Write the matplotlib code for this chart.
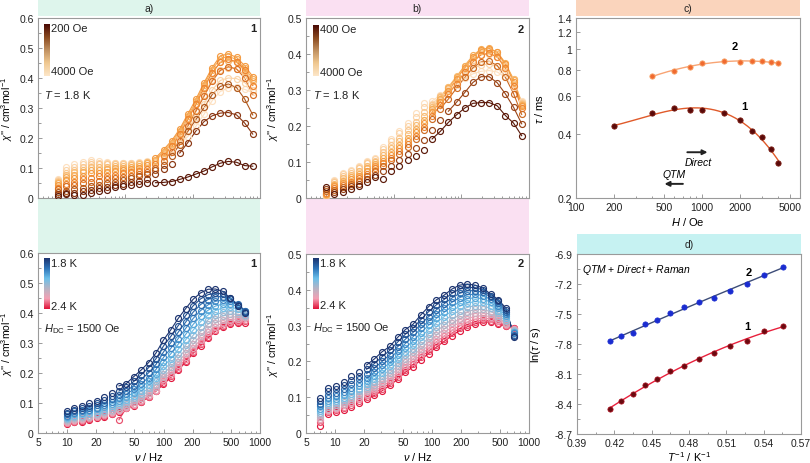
import numpy as np
import matplotlib
matplotlib.use('Agg')
import matplotlib.pyplot as plt
from matplotlib.colors import LinearSegmentedColormap
from matplotlib.ticker import FixedLocator, NullFormatter, NullLocator, FuncFormatter, MultipleLocator
from matplotlib.patches import Rectangle

plt.rcParams['font.family'] = ['Liberation Sans', 'DejaVu Sans']
plt.rcParams['mathtext.fontset'] = 'custom'
plt.rcParams['mathtext.rm'] = 'Liberation Sans'
plt.rcParams['mathtext.it'] = 'Liberation Sans:italic'
plt.rcParams['mathtext.bf'] = 'Liberation Sans:bold'

# ---------------- data ----------------
# panel a / b: chi'' vs frequency at 1.8 K for several fields
freq_top = [1.0, 1.32, 1.74, 2.3, 3.03, 4.0, 5.3, 7.0, 9.2, 12.1, 16.0, 21.1, 27.9,
            36.8, 48.6, 64.1, 84.6, 112, 148, 195, 257, 339, 448, 591, 780]
fields_a = [200, 400, 600, 800, 1000, 1500, 2000, 2500, 3000, 3500, 4000]
a200 = [0.008, 0.012, 0.010, 0.011, 0.017, 0.022, 0.028, 0.038, 0.041, 0.043, 0.048, 0.050, 0.051, 0.052, 0.055, 0.062, 0.070, 0.080, 0.090, 0.104, 0.116, 0.122, 0.119, 0.108, 0.106]
a400 = [0.015, 0.016, 0.018, 0.022, 0.027, 0.032, 0.037, 0.042, 0.047, 0.052, 0.057, 0.065, 0.080, 0.097, 0.112, 0.150, 0.185, 0.224, 0.255, 0.274, 0.283, 0.285, 0.277, 0.250, 0.213]
a600 = [0.020, 0.025, 0.030, 0.035, 0.040, 0.045, 0.050, 0.055, 0.060, 0.066, 0.072, 0.080, 0.092, 0.110, 0.141, 0.178, 0.222, 0.262, 0.302, 0.345, 0.372, 0.380, 0.368, 0.330, 0.277]
a800 = [0.030, 0.040, 0.045, 0.050, 0.055, 0.058, 0.062, 0.066, 0.070, 0.075, 0.080, 0.088, 0.100, 0.124, 0.155, 0.190, 0.240, 0.290, 0.340, 0.390, 0.425, 0.438, 0.430, 0.400, 0.345]
a1000 = [0.035, 0.048, 0.055, 0.062, 0.068, 0.072, 0.075, 0.078, 0.082, 0.086, 0.090, 0.098, 0.112, 0.140, 0.172, 0.212, 0.262, 0.312, 0.368, 0.418, 0.452, 0.462, 0.455, 0.428, 0.375]
a1500 = [0.045, 0.060, 0.068, 0.075, 0.082, 0.085, 0.088, 0.090, 0.093, 0.096, 0.100, 0.110, 0.133, 0.161, 0.191, 0.230, 0.280, 0.330, 0.385, 0.435, 0.474, 0.480, 0.469, 0.441, 0.405]
a2000 = [0.050, 0.070, 0.078, 0.086, 0.092, 0.095, 0.097, 0.099, 0.101, 0.104, 0.108, 0.116, 0.128, 0.155, 0.185, 0.225, 0.272, 0.322, 0.378, 0.428, 0.465, 0.472, 0.462, 0.432, 0.398]
a2500 = [0.055, 0.078, 0.088, 0.095, 0.102, 0.104, 0.105, 0.106, 0.108, 0.110, 0.113, 0.120, 0.125, 0.150, 0.180, 0.218, 0.265, 0.315, 0.370, 0.418, 0.452, 0.458, 0.452, 0.424, 0.390]
a3000 = [0.058, 0.085, 0.095, 0.105, 0.112, 0.112, 0.112, 0.112, 0.113, 0.114, 0.116, 0.120, 0.122, 0.145, 0.172, 0.205, 0.248, 0.295, 0.345, 0.395, 0.428, 0.435, 0.430, 0.410, 0.375]
a3500 = [0.060, 0.095, 0.105, 0.113, 0.120, 0.118, 0.117, 0.116, 0.116, 0.117, 0.118, 0.121, 0.120, 0.140, 0.165, 0.192, 0.228, 0.270, 0.315, 0.360, 0.392, 0.400, 0.398, 0.385, 0.360]
a4000 = [0.062, 0.104, 0.112, 0.120, 0.128, 0.122, 0.119, 0.118, 0.117, 0.118, 0.120, 0.122, 0.118, 0.135, 0.158, 0.180, 0.205, 0.240, 0.280, 0.325, 0.355, 0.367, 0.370, 0.362, 0.352]
series_a = [a200, a400, a600, a800, a1000, a1500, a2000, a2500, a3000, a3500, a4000]

fields_b = [400, 600, 800, 1000, 1500, 2000, 2500, 3000, 3500, 4000]
b400 = [0.030, 0.011, 0.018, 0.024, 0.033, 0.045, 0.059, 0.053, 0.076, 0.090, 0.106, 0.117, 0.133, 0.164, 0.185, 0.210, 0.231, 0.250, 0.263, 0.265, 0.265, 0.256, 0.229, 0.208, 0.173]
b600 = [0.025, 0.018, 0.024, 0.032, 0.040, 0.052, 0.065, 0.075, 0.090, 0.105, 0.122, 0.140, 0.160, 0.190, 0.216, 0.241, 0.266, 0.293, 0.321, 0.337, 0.337, 0.320, 0.289, 0.252, 0.206]
b800 = [0.020, 0.022, 0.030, 0.038, 0.048, 0.060, 0.075, 0.088, 0.105, 0.122, 0.142, 0.165, 0.190, 0.220, 0.248, 0.275, 0.305, 0.335, 0.362, 0.378, 0.380, 0.368, 0.335, 0.290, 0.232]
b1000 = [0.015, 0.028, 0.036, 0.045, 0.055, 0.068, 0.082, 0.096, 0.112, 0.130, 0.150, 0.172, 0.198, 0.228, 0.258, 0.288, 0.318, 0.350, 0.378, 0.398, 0.402, 0.392, 0.360, 0.312, 0.250]
b1500 = [0.012, 0.032, 0.042, 0.052, 0.062, 0.075, 0.088, 0.103, 0.120, 0.138, 0.158, 0.182, 0.208, 0.238, 0.268, 0.298, 0.330, 0.362, 0.392, 0.412, 0.415, 0.405, 0.372, 0.322, 0.255]
b2000 = [0.010, 0.036, 0.048, 0.058, 0.068, 0.082, 0.095, 0.112, 0.128, 0.148, 0.168, 0.192, 0.218, 0.246, 0.275, 0.305, 0.336, 0.368, 0.396, 0.414, 0.416, 0.405, 0.375, 0.328, 0.258]
b2500 = [0.008, 0.040, 0.055, 0.064, 0.075, 0.090, 0.100, 0.120, 0.138, 0.158, 0.178, 0.202, 0.228, 0.252, 0.280, 0.308, 0.338, 0.366, 0.392, 0.408, 0.410, 0.400, 0.372, 0.330, 0.262]
b3000 = [0.007, 0.044, 0.062, 0.070, 0.082, 0.096, 0.104, 0.128, 0.148, 0.168, 0.188, 0.212, 0.240, 0.258, 0.282, 0.308, 0.334, 0.360, 0.384, 0.398, 0.400, 0.392, 0.368, 0.330, 0.265]
b3500 = [0.006, 0.048, 0.066, 0.074, 0.086, 0.100, 0.108, 0.136, 0.158, 0.180, 0.200, 0.225, 0.252, 0.262, 0.282, 0.302, 0.322, 0.342, 0.360, 0.370, 0.372, 0.366, 0.348, 0.318, 0.268]
b4000 = [0.005, 0.051, 0.070, 0.078, 0.090, 0.104, 0.111, 0.142, 0.164, 0.187, 0.208, 0.236, 0.263, 0.270, 0.285, 0.300, 0.315, 0.332, 0.345, 0.352, 0.354, 0.350, 0.335, 0.308, 0.269]
series_b = [b400, b600, b800, b1000, b1500, b2000, b2500, b3000, b3500, b4000]

# lower panels: chi'' vs frequency at 1500 Oe, 1.8 - 2.4 K
temps = [1.8, 1.85, 1.9, 1.95, 2.0, 2.05, 2.1, 2.15, 2.2, 2.25, 2.3, 2.35, 2.4]
freq_la = [10, 11.9, 14.3, 17.0, 20.3, 24.2, 28.9, 34.5, 41.2, 49.2, 58.7, 70.1, 83.7,
           99.9, 119, 142, 170, 203, 242, 289, 345, 412, 492, 587, 700]
la180 = [0.074, 0.085, 0.091, 0.099, 0.108, 0.119, 0.135, 0.157, 0.165, 0.188, 0.210, 0.235, 0.267, 0.310, 0.344, 0.382, 0.415, 0.446, 0.467, 0.479, 0.480, 0.472, 0.449, 0.423, 0.400]
la185 = [0.068, 0.078, 0.084, 0.091, 0.099, 0.109, 0.123, 0.140, 0.152, 0.172, 0.194, 0.218, 0.248, 0.290, 0.322, 0.358, 0.392, 0.424, 0.447, 0.461, 0.466, 0.464, 0.450, 0.428, 0.405]
la190 = [0.063, 0.072, 0.078, 0.084, 0.092, 0.101, 0.113, 0.128, 0.140, 0.158, 0.178, 0.201, 0.229, 0.270, 0.301, 0.336, 0.370, 0.403, 0.428, 0.445, 0.454, 0.455, 0.447, 0.430, 0.408]
la195 = [0.058, 0.067, 0.072, 0.078, 0.085, 0.093, 0.104, 0.117, 0.129, 0.146, 0.164, 0.185, 0.212, 0.252, 0.282, 0.315, 0.349, 0.382, 0.408, 0.427, 0.439, 0.443, 0.440, 0.428, 0.407]
la200 = [0.054, 0.062, 0.067, 0.072, 0.079, 0.086, 0.096, 0.108, 0.120, 0.135, 0.152, 0.172, 0.197, 0.236, 0.264, 0.296, 0.329, 0.362, 0.389, 0.409, 0.423, 0.430, 0.430, 0.422, 0.403]
la205 = [0.050, 0.058, 0.062, 0.067, 0.073, 0.080, 0.089, 0.100, 0.111, 0.125, 0.141, 0.160, 0.184, 0.222, 0.248, 0.279, 0.311, 0.343, 0.371, 0.393, 0.408, 0.417, 0.419, 0.414, 0.400]
la210 = [0.046, 0.053, 0.058, 0.062, 0.068, 0.074, 0.083, 0.093, 0.103, 0.116, 0.131, 0.149, 0.172, 0.210, 0.234, 0.263, 0.294, 0.326, 0.354, 0.377, 0.393, 0.403, 0.407, 0.405, 0.395]
la215 = [0.043, 0.050, 0.054, 0.058, 0.064, 0.070, 0.078, 0.087, 0.097, 0.109, 0.123, 0.140, 0.161, 0.198, 0.221, 0.249, 0.279, 0.310, 0.338, 0.362, 0.379, 0.390, 0.396, 0.396, 0.390]
la220 = [0.040, 0.046, 0.050, 0.055, 0.060, 0.066, 0.073, 0.081, 0.091, 0.103, 0.116, 0.132, 0.152, 0.188, 0.210, 0.237, 0.266, 0.296, 0.324, 0.348, 0.366, 0.378, 0.386, 0.388, 0.386]
la225 = [0.037, 0.043, 0.047, 0.052, 0.057, 0.062, 0.069, 0.077, 0.087, 0.098, 0.111, 0.126, 0.145, 0.180, 0.201, 0.227, 0.255, 0.284, 0.311, 0.336, 0.354, 0.368, 0.377, 0.381, 0.382]
la230 = [0.035, 0.041, 0.044, 0.050, 0.055, 0.060, 0.066, 0.074, 0.084, 0.095, 0.107, 0.122, 0.141, 0.173, 0.194, 0.219, 0.246, 0.275, 0.301, 0.326, 0.345, 0.359, 0.369, 0.375, 0.378]
la235 = [0.032, 0.038, 0.041, 0.047, 0.052, 0.057, 0.064, 0.044, 0.083, 0.093, 0.105, 0.121, 0.140, 0.167, 0.189, 0.214, 0.240, 0.270, 0.296, 0.321, 0.342, 0.356, 0.366, 0.370, 0.372]
la240 = [0.030, 0.036, 0.038, 0.045, 0.050, 0.055, 0.062, 0.070, 0.082, 0.091, 0.103, 0.120, 0.140, 0.162, 0.185, 0.210, 0.236, 0.266, 0.291, 0.316, 0.339, 0.353, 0.363, 0.366, 0.366]
series_la = [la180, la185, la190, la195, la200, la205, la210, la215, la220, la225, la230, la235, la240]

freq_lb = [7, 8.4, 10.1, 12.2, 14.6, 17.6, 21.1, 25.4, 30.5, 36.7, 44.1, 53.0, 63.7,
           76.6, 92.1, 110.7, 133.1, 160, 192.4, 231.3, 278.1, 334.4, 402, 483.3, 581.1, 700]
lb180 = [0.097, 0.127, 0.132, 0.143, 0.160, 0.171, 0.190, 0.207, 0.227, 0.242, 0.267, 0.289, 0.304, 0.330, 0.353, 0.372, 0.385, 0.402, 0.413, 0.416, 0.413, 0.405, 0.388, 0.372, 0.348, 0.268]
lb185 = [0.090, 0.116, 0.122, 0.133, 0.147, 0.160, 0.178, 0.194, 0.213, 0.231, 0.254, 0.276, 0.293, 0.317, 0.339, 0.358, 0.373, 0.390, 0.402, 0.407, 0.406, 0.400, 0.384, 0.368, 0.343, 0.272]
lb190 = [0.082, 0.106, 0.113, 0.123, 0.136, 0.150, 0.166, 0.181, 0.200, 0.219, 0.241, 0.262, 0.281, 0.304, 0.325, 0.344, 0.361, 0.377, 0.390, 0.397, 0.398, 0.393, 0.380, 0.362, 0.338, 0.275]
lb195 = [0.075, 0.097, 0.104, 0.114, 0.126, 0.140, 0.155, 0.170, 0.189, 0.208, 0.229, 0.250, 0.269, 0.292, 0.313, 0.332, 0.349, 0.365, 0.378, 0.386, 0.388, 0.384, 0.373, 0.356, 0.333, 0.278]
lb200 = [0.068, 0.089, 0.096, 0.106, 0.118, 0.131, 0.145, 0.160, 0.178, 0.197, 0.217, 0.238, 0.257, 0.280, 0.301, 0.320, 0.337, 0.353, 0.366, 0.375, 0.378, 0.375, 0.365, 0.349, 0.327, 0.281]
lb205 = [0.062, 0.083, 0.090, 0.099, 0.110, 0.123, 0.137, 0.151, 0.168, 0.187, 0.206, 0.227, 0.246, 0.268, 0.289, 0.308, 0.325, 0.341, 0.354, 0.363, 0.367, 0.365, 0.356, 0.342, 0.322, 0.283]
lb210 = [0.056, 0.077, 0.084, 0.093, 0.103, 0.116, 0.129, 0.143, 0.159, 0.177, 0.196, 0.217, 0.235, 0.257, 0.277, 0.296, 0.313, 0.329, 0.342, 0.351, 0.356, 0.355, 0.348, 0.335, 0.317, 0.285]
lb215 = [0.050, 0.072, 0.079, 0.087, 0.097, 0.109, 0.122, 0.135, 0.151, 0.168, 0.187, 0.207, 0.225, 0.246, 0.265, 0.284, 0.301, 0.317, 0.330, 0.339, 0.345, 0.345, 0.339, 0.328, 0.312, 0.287]
lb220 = [0.045, 0.068, 0.074, 0.082, 0.092, 0.103, 0.116, 0.128, 0.143, 0.160, 0.178, 0.198, 0.215, 0.236, 0.255, 0.273, 0.290, 0.306, 0.319, 0.329, 0.335, 0.336, 0.332, 0.322, 0.308, 0.289]
lb225 = [0.040, 0.064, 0.070, 0.078, 0.087, 0.098, 0.110, 0.122, 0.136, 0.152, 0.170, 0.190, 0.207, 0.227, 0.245, 0.263, 0.280, 0.296, 0.309, 0.319, 0.326, 0.328, 0.325, 0.317, 0.305, 0.290]
lb230 = [0.036, 0.061, 0.066, 0.074, 0.083, 0.094, 0.105, 0.116, 0.130, 0.145, 0.163, 0.183, 0.199, 0.219, 0.237, 0.255, 0.271, 0.287, 0.300, 0.310, 0.318, 0.321, 0.319, 0.312, 0.302, 0.291]
lb235 = [0.030, 0.058, 0.063, 0.070, 0.079, 0.090, 0.100, 0.111, 0.124, 0.139, 0.156, 0.176, 0.192, 0.212, 0.229, 0.247, 0.263, 0.279, 0.292, 0.303, 0.311, 0.315, 0.314, 0.308, 0.300, 0.292]
lb240 = [0.020, 0.054, 0.058, 0.065, 0.074, 0.085, 0.095, 0.105, 0.118, 0.133, 0.150, 0.170, 0.185, 0.205, 0.222, 0.240, 0.256, 0.272, 0.286, 0.297, 0.305, 0.310, 0.310, 0.305, 0.298, 0.292]
series_lb = [lb180, lb185, lb190, lb195, lb200, lb205, lb210, lb215, lb220, lb225, lb230, lb235, lb240]

# panel c: tau vs field
H1 = [200, 400, 600, 800, 1000, 1500, 2000, 2500, 3000, 3500, 4000]
tau1 = [0.435, 0.499, 0.527, 0.518, 0.519, 0.499, 0.465, 0.413, 0.386, 0.338, 0.293]
H2 = [400, 600, 800, 1000, 1500, 2000, 2500, 3000, 3500, 4000]
tau2 = [0.748, 0.789, 0.828, 0.857, 0.879, 0.874, 0.881, 0.876, 0.869, 0.857]

# panel d: ln(tau) vs 1/T
invT = [0.4167, 0.4255, 0.4348, 0.4444, 0.4545, 0.4651, 0.4762, 0.4878, 0.5000,
        0.5128, 0.5263, 0.5405, 0.5556]
lntau2 = [-7.767, -7.723, -7.690, -7.603, -7.560, -7.490, -7.427, -7.383, -7.343,
          -7.270, -7.197, -7.107, -7.027]
lntau1 = [-8.450, -8.373, -8.300, -8.207, -8.150, -8.070, -8.017, -7.950, -7.887,
          -7.820, -7.773, -7.673, -7.617]

# ---------------- styling ----------------
W, H = 810, 464
fig = plt.figure(figsize=(8.1, 4.64), dpi=100)

def rect(l, t, r, b):
    return [l / W, 1 - b / H, (r - l) / W, (b - t) / H]

def band(l, t, r, b, color):
    fig.add_artist(Rectangle((l / W, 1 - b / H), (r - l) / W, (b - t) / H,
                             transform=fig.transFigure, facecolor=color,
                             edgecolor='none', zorder=-5))

def ftext(px, py, s, **kw):
    kw.setdefault('fontsize', 8)
    kw.setdefault('color', '#222222')
    fig.text(px / W, 1 - py / H, s, **kw)

def style(ax):
    for s in ax.spines.values():
        s.set_color('#9a9a9a')
        s.set_linewidth(0.8)
    ax.tick_params(which='both', direction='in', colors='#9a9a9a', labelcolor='#222222',
                   labelsize=7.5, width=0.7, pad=3)
    ax.tick_params(which='major', length=3)
    ax.tick_params(which='minor', length=1.8)

chifmt = FuncFormatter(lambda v, p: '0' if abs(v) < 1e-9 else f'{v:.1f}')
chilabel = "$\\chi$'' / cm$^{3}$mol$^{-1}$"

brown_cols_a = ['#5a1808', '#8a3612', '#b0581c', '#d86e22', '#ee8430', '#f49a40',
                '#f6ac58', '#f8bc74', '#fac890', '#fbd4a8', '#fde0c0']
brown_cols_b = ['#5a1808', '#9a4416', '#cc6a22', '#ee8430', '#f49a40', '#f6ac58',
                '#f8bc74', '#fac890', '#fbd4a8', '#fde0c0']
brown_cmap = LinearSegmentedColormap.from_list(
    'br', ['#4a0a05', '#8a4a20', '#c09060', '#f0c890', '#fde6c8'])
temp_cmap = LinearSegmentedColormap.from_list(
    'tp', ['#1c3470', '#2e74b8', '#6cc0ea', '#b8b4c4', '#f4a0b4', '#e0143a'])
temp_cols = [temp_cmap(i / (len(temps) - 1)) for i in range(len(temps))]

bands = {'a': '#def5ec', 'b': '#fae0f2', 'c': '#fad4bc', 'd': '#c6f2f2'}

# bands
band(38, 0, 260, 17, bands['a'])
band(38, 199, 260, 254, bands['a'])
band(306, 0, 529, 17, bands['b'])
band(306, 199, 529, 255, bands['b'])
band(576, 0, 800, 17, bands['c'])
band(577, 235, 801, 255, bands['d'])
ftext(149, 9, 'a)', ha='center', va='center', fontsize=7.5)
ftext(417, 9, 'b)', ha='center', va='center', fontsize=7.5)
ftext(688, 9, 'c)', ha='center', va='center', fontsize=7.5)
ftext(689, 245, 'd)', ha='center', va='center', fontsize=7.5)

def colorbar(l, t, r, b, cmap):
    cax = fig.add_axes(rect(l, t, r, b))
    cax.imshow(np.linspace(0, 1, 100).reshape(-1, 1), aspect='auto', cmap=cmap)
    cax.axis('off')

def freq_axis_top(ax):
    ax.set_xscale('log')
    ax.set_xlim(0.5, 1000)
    ax.xaxis.set_major_locator(FixedLocator([1, 10, 100, 1000]))
    ax.xaxis.set_minor_locator(FixedLocator([k * 10 ** e for e in range(-1, 3) for k in range(2, 10)]))
    ax.xaxis.set_major_formatter(NullFormatter())
    ax.xaxis.set_minor_formatter(NullFormatter())

def freq_axis_bottom(ax):
    ax.set_xscale('log')
    ax.set_xlim(5, 1000)
    ax.xaxis.set_major_locator(FixedLocator([5, 10, 20, 50, 100, 200, 500, 1000]))
    ax.xaxis.set_major_formatter(FuncFormatter(lambda v, p: f'{v:g}'))
    ax.xaxis.set_minor_locator(FixedLocator([6, 7, 8, 9, 30, 40, 60, 70, 80, 90, 300, 400, 600, 700, 800, 900]))
    ax.xaxis.set_minor_formatter(NullFormatter())
    ax.set_xlabel('$\\nu$ / Hz', fontsize=8, labelpad=2)

def plot_series(ax, f, ys, cols, line_from):
    for y, c, k in zip(ys, cols, line_from):
        if k is not None:
            ax.plot(f[k:], y[k:], '-', color=c, lw=0.8, zorder=2)
        ax.plot(f, y, 'o', mfc='none', mec=c, ms=4.3, mew=0.85, zorder=3)

# ---- panel a (top)
axa = fig.add_axes(rect(38, 19, 260, 199))
style(axa)
freq_axis_top(axa)
axa.set_ylim(0, 0.6)
axa.yaxis.set_major_locator(MultipleLocator(0.1))
axa.yaxis.set_minor_locator(MultipleLocator(0.05))
axa.yaxis.set_major_formatter(chifmt)
order = list(range(len(series_a)))[::-1]
plot_series(axa, freq_top, [series_a[i] for i in order], [brown_cols_a[i] for i in order],
            [[12, 15, 14, 13, 13, 12, 12, 12, 13, 13, 13][i] for i in order])
axa.set_ylabel(chilabel, fontsize=7.5)
axa.yaxis.set_label_coords(-0.105, 0.5)
colorbar(44, 25, 50, 77, brown_cmap)
ftext(51, 29, '200 Oe', va='center')
ftext(51, 72, '4000 Oe', va='center')
ftext(44, 95, '$T$ = 1.8 K', va='center')
ftext(256, 29, '1', va='center', ha='right', fontweight='bold')

# ---- panel b (top)
axb = fig.add_axes(rect(306, 19, 529, 199))
style(axb)
freq_axis_top(axb)
axb.set_ylim(0, 0.5)
axb.yaxis.set_major_locator(MultipleLocator(0.1))
axb.yaxis.set_minor_locator(MultipleLocator(0.05))
axb.yaxis.set_major_formatter(chifmt)
order = list(range(len(series_b)))[::-1]
plot_series(axb, freq_top, [series_b[i] for i in order], [brown_cols_b[i] for i in order],
            [[13, 15, 14, 13, 13, 13, 13, 13, 13, 13][i] for i in order])
axb.set_ylabel(chilabel, fontsize=7.5)
axb.yaxis.set_label_coords(-0.112, 0.5)
colorbar(313, 26, 319, 77, brown_cmap)
ftext(320, 30, '400 Oe', va='center')
ftext(320, 73, '4000 Oe', va='center')
ftext(313, 95, '$T$ = 1.8 K', va='center')
ftext(524, 30, '2', va='center', ha='right', fontweight='bold')

# ---- lower a
axla = fig.add_axes(rect(38, 254, 260, 434))
style(axla)
freq_axis_bottom(axla)
axla.set_ylim(0, 0.6)
axla.yaxis.set_major_locator(MultipleLocator(0.1))
axla.yaxis.set_minor_locator(MultipleLocator(0.05))
axla.yaxis.set_major_formatter(chifmt)
order = list(range(len(series_la)))[::-1]
plot_series(axla, freq_la, [series_la[i] for i in order], [temp_cols[i] for i in order],
            [7] * len(order))
axla.set_ylabel(chilabel, fontsize=7.5)
axla.yaxis.set_label_coords(-0.105, 0.5)
colorbar(44, 259, 50, 310, temp_cmap)
ftext(51, 264, '1.8 K', va='center')
ftext(51, 307, '2.4 K', va='center')
ftext(44, 329, '$H_{\\rm DC}$ = 1500 Oe', va='center')
ftext(256, 264, '1', va='center', ha='right', fontweight='bold')

# ---- lower b
axlb = fig.add_axes(rect(306, 255, 529, 434))
style(axlb)
freq_axis_bottom(axlb)
axlb.set_ylim(0, 0.5)
axlb.yaxis.set_major_locator(MultipleLocator(0.1))
axlb.yaxis.set_minor_locator(MultipleLocator(0.05))
axlb.yaxis.set_major_formatter(chifmt)
order = list(range(len(series_lb)))[::-1]
plot_series(axlb, freq_lb, [series_lb[i] for i in order], [temp_cols[i] for i in order],
            [6] * len(order))
axlb.set_ylabel(chilabel, fontsize=7.5)
axlb.yaxis.set_label_coords(-0.112, 0.5)
colorbar(313, 259, 319, 310, temp_cmap)
ftext(320, 264, '1.8 K', va='center')
ftext(320, 306, '2.4 K', va='center')
ftext(313, 328, '$H_{\\rm DC}$ = 1500 Oe', va='center')
ftext(524, 264, '2', va='center', ha='right', fontweight='bold')

# ---- panel c
axc = fig.add_axes(rect(576, 19, 800, 199))
style(axc)
axc.set_xscale('log')
axc.set_yscale('log')
axc.set_xlim(100, 5960)
axc.set_ylim(0.2, 1.4)
axc.xaxis.set_major_locator(FixedLocator([100, 200, 500, 1000, 2000, 5000]))
axc.xaxis.set_major_formatter(FuncFormatter(lambda v, p: f'{v:g}'))
axc.xaxis.set_minor_locator(FixedLocator([300, 400, 600, 700, 800, 900, 3000, 4000]))
axc.xaxis.set_minor_formatter(NullFormatter())
axc.yaxis.set_major_locator(FixedLocator([0.2, 0.4, 0.6, 0.8, 1.0, 1.2, 1.4]))
axc.yaxis.set_major_formatter(FuncFormatter(lambda v, p: f'{v:g}'))
axc.yaxis.set_minor_locator(NullLocator())
axc.yaxis.set_minor_formatter(NullFormatter())
lh1 = np.log10(H1); lt1 = np.log10(tau1)
p1 = np.polyfit(lh1, lt1, 3)
xs1 = np.linspace(lh1.min(), lh1.max(), 200)
axc.plot(10 ** xs1, 10 ** np.polyval(p1, xs1), '-', color='#e05a2a', lw=1.0)
lh2 = np.log10(H2); lt2 = np.log10(tau2)
p2 = np.polyfit(lh2, lt2, 2)
xs2 = np.linspace(lh2.min(), lh2.max(), 200)
axc.plot(10 ** xs2, 10 ** np.polyval(p2, xs2), '-', color='#f8a474', lw=1.0)
axc.plot(H1, tau1, 'o', mfc='#5a0a0a', mec='#7a1a10', ms=3.8, mew=0.6)
axc.plot(H2, tau2, 'o', mfc='#f06a30', mec='#f8a468', ms=3.8, mew=0.6)
axc.set_xlabel('$H$ / Oe', fontsize=8, labelpad=2)
axc.set_ylabel('$\\tau$ / ms', fontsize=8)
axc.yaxis.set_label_coords(-0.138, 0.5)
axc.text(0.71, 0.844, '2', transform=axc.transAxes, ha='center', va='center', fontsize=8, fontweight='bold')
axc.text(0.75, 0.511, '1', transform=axc.transAxes, ha='center', va='center', fontsize=8, fontweight='bold')
axc.annotate('', xy=(1160, 0.328), xytext=(725, 0.328),
             arrowprops=dict(arrowstyle='-|>', color='#222222', lw=1.4, mutation_scale=7))
axc.text(925, 0.294, 'Direct', ha='center', va='center', fontsize=7.5, style='italic')
axc.text(596, 0.259, 'QTM', ha='center', va='center', fontsize=7.5, style='italic')
axc.annotate('', xy=(478, 0.233), xytext=(740, 0.233),
             arrowprops=dict(arrowstyle='-|>', color='#222222', lw=1.4, mutation_scale=7))

# ---- panel d
axd = fig.add_axes(rect(577, 255, 801, 435))
style(axd)
axd.set_xlim(0.39, 0.57)
axd.set_ylim(-8.7, -6.9)
axd.xaxis.set_major_locator(FixedLocator([0.39, 0.42, 0.45, 0.48, 0.51, 0.54, 0.57]))
axd.xaxis.set_major_formatter(FuncFormatter(lambda v, p: f'{v:.2f}'))
axd.xaxis.set_minor_locator(MultipleLocator(0.015))
axd.yaxis.set_major_locator(FixedLocator([-8.7, -8.4, -8.1, -7.8, -7.5, -7.2, -6.9]))
axd.yaxis.set_major_formatter(FuncFormatter(lambda v, p: f'{v:.1f}'))
axd.yaxis.set_minor_locator(MultipleLocator(0.15))
xs = np.linspace(min(invT), max(invT), 200)
q2 = np.polyfit(invT, lntau2, 2)
q1 = np.polyfit(invT, lntau1, 2)
axd.plot(xs, np.polyval(q2, xs), '-', color='#3c4c78', lw=1.0)
axd.plot(xs, np.polyval(q1, xs), '-', color='#e8203c', lw=1.0)
axd.plot(invT, lntau2, 'o', mfc='#1a2cd0', mec='#1a2cd0', ms=3.8, mew=0.5)
axd.plot(invT, lntau1, 'o', mfc='#6a0a10', mec='#b01020', ms=3.8, mew=0.5)
axd.set_xlabel('$T^{-1}$ / K$^{-1}$', fontsize=8, labelpad=1)
axd.set_ylabel('ln($\\tau$ / s)', fontsize=8)
axd.yaxis.set_label_coords(-0.152, 0.5)
axd.text(0.768, 0.90, '2', transform=axd.transAxes, ha='center', va='center', fontsize=8, fontweight='bold')
axd.text(0.759, 0.60, '1', transform=axd.transAxes, ha='center', va='center', fontsize=8, fontweight='bold')
axd.text(0.022, 0.917, '$QTM$ + $Direct$ + $Raman$', transform=axd.transAxes, ha='left',
         va='center', fontsize=7.5)

fig.savefig('out.png', dpi=100)
